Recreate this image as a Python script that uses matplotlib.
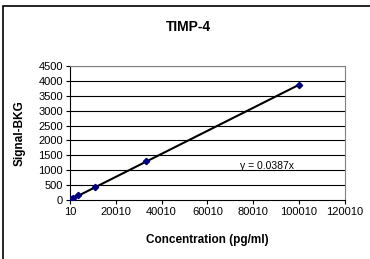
import numpy as np
import matplotlib
matplotlib.use("Agg")
import matplotlib.pyplot as plt
from matplotlib.patches import Rectangle

# standard curve values
conc = [0, 137, 412, 1235, 3704, 11111, 33333, 100000]
signal = [0, 5, 20, 50, 160, 430, 1320, 3870]
slope = 0.0387

xticks = [10, 20010, 40010, 60010, 80010, 100010, 120010]
yticks = list(range(0, 5000, 500))

plt.rcParams['font.family'] = ['Liberation Sans', 'DejaVu Sans']

fig = plt.figure(figsize=(3.7, 2.59), dpi=100)
ax = fig.add_axes([0.189, 0.228, 0.743, 0.517])

for y in yticks[1:]:
    ax.axhline(y, color='black', lw=0.8, zorder=1)

xfit = np.array([0, max(conc)])
ax.plot(xfit, slope * xfit, color='black', lw=1.5, zorder=2)
ax.plot(conc, signal, linestyle='none', marker='D', markersize=3.2,
        color='#000080', zorder=3)

ax.set_xlim(10, 120010)
ax.set_ylim(0, 4500)
ax.set_xticks(xticks)
ax.set_yticks(yticks)
ax.tick_params(labelsize=8, length=3, width=0.8, direction='out', pad=2)

for s in ['top', 'right']:
    ax.spines[s].set_color('#808080')
for s in ['left', 'bottom']:
    ax.spines[s].set_color('black')

fig.text(0.51, 0.895, 'TIMP-4', fontsize=10, fontweight='bold',
         ha='center', va='center')
ax.set_xlabel('Concentration (pg/ml)', fontsize=8.5, fontweight='bold', labelpad=12)
ax.set_ylabel('Signal-BKG', fontsize=8.5, fontweight='bold', labelpad=9)
ax.text(0.618, 0.255, 'y = 0.0387x', transform=ax.transAxes, fontsize=7.5,
        va='center')

fig.patches.append(Rectangle((0.009, -0.2), 1.2, 1.177, transform=fig.transFigure,
                             fill=False, edgecolor='black', lw=1.2))

fig.savefig('out.png', dpi=100)
